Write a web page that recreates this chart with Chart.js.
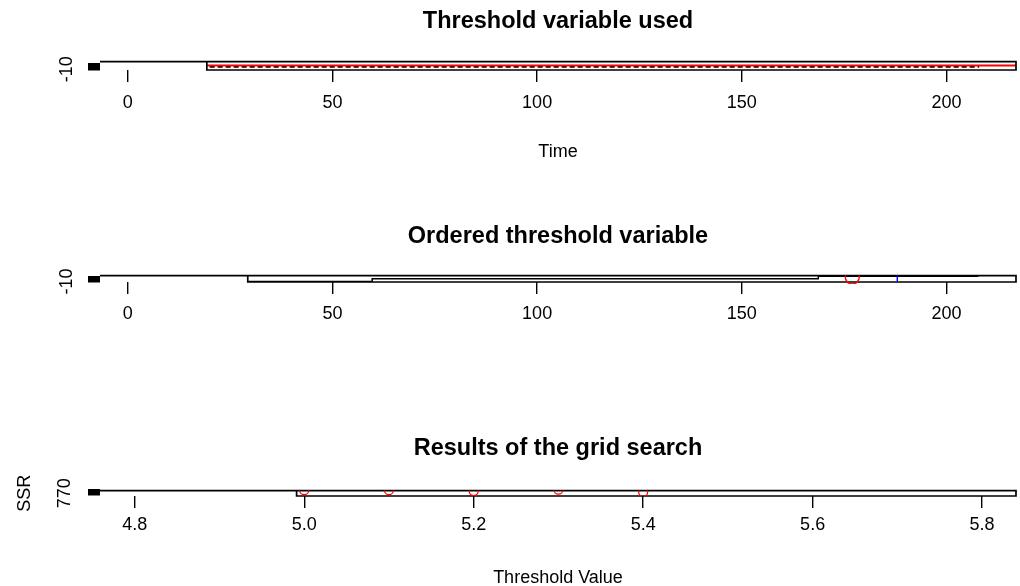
<!DOCTYPE html>
<html>
<head>
<meta charset="utf-8">
<title>selectSETAR</title>
<script src="https://cdn.jsdelivr.net/npm/chart.js@4.4.1/dist/chart.umd.min.js"></script>
<style>
  html, body { margin: 0; padding: 0; background: #fff; }
  #wrap { position: relative; width: 1020px; height: 586px; }
  canvas { position: absolute; left: 0; }
</style>
</head>
<body>
<div id="wrap">
  <canvas id="usedChart" width="1020" height="180" style="top:0px"></canvas>
  <canvas id="orderedChart" width="1020" height="150" style="top:195px"></canvas>
  <canvas id="gridChart" width="1020" height="186" style="top:400px"></canvas>
</div>
<script>
// time axis shared by the two upper panels
const timeLimits = [-6.8, 217];
const timeTicks = [0, 50, 100, 150, 200];
// threshold variable scale, only the first label has room
const levelLimits = [-13, 21];
const levelTicks = [-10, -5, 0, 5, 10];
const levelLabels = [-10];

// threshold variable used
const usedStart = 19.3;
const usedTime = [20, 208];
const usedLevel = [1, 1];
const thresholdUsed = 5.2;

// ordered threshold variable
const orderedStart = 29.3;
const orderedIndex = [29.3, 59.7, 59.7, 168.7, 168.7, 207.8];
const orderedLevel = [-11, -11, 4, 4, 17, 17];
const bestIndex = [177];
const bestLevel = [13.7];
const secondIndex = [188];
const secondLevel = [4];

// grid search
const thLimits = [4.759, 5.84];
const thTicks = [4.8, 5.0, 5.2, 5.4, 5.6, 5.8];
const ssrLimits = [766, 774];
const ssrTicks = [768, 770, 772, 774];
const ssrLabels = [770];
const gridStart = 4.991;
const gridTh = [5.0, 5.1, 5.2, 5.3, 5.4];
const gridSSR = [774.7, 774.7, 773.3, 775.3, 772];

Chart.defaults.font.family = "'Liberation Sans', Arial, sans-serif";
Chart.defaults.color = '#000';

function pts(xs, ys) {
    return xs.map((x, i) => ({x: x, y: ys[i]}));
}

// top edge over the whole panel, box from start to the right edge
function frame(xLim, yLim, start) {
    return pts([xLim[0], xLim[1], xLim[1], start, start],
        [yLim[1], yLim[1], yLim[0], yLim[0], yLim[1]]);
}

function xAxis(lim, ticks, fmt, pad, height, title, titlePad) {
    return {
        type: 'linear', min: lim[0], max: lim[1],
        afterBuildTicks: s => { s.ticks = ticks.map(v => ({value: v})); },
        afterFit: s => { s.height = height; },
        border: {display: false},
        grid: {drawOnChartArea: false, tickLength: 12, color: '#000', lineWidth: 1.4},
        ticks: {font: {size: 18}, padding: pad, maxRotation: 0, autoSkip: false, callback: fmt},
        title: {display: !!title, text: title || '', font: {size: 18}, padding: {top: 0, bottom: titlePad || 0}}
    };
}

function yAxis(lim, ticks, labels, title) {
    return {
        type: 'linear', min: lim[0], max: lim[1],
        afterBuildTicks: s => { s.ticks = ticks.map(v => ({value: v})); },
        afterFit: s => { s.width = 100; },
        border: {display: false},
        grid: {drawOnChartArea: false, tickLength: 12, color: '#000', lineWidth: 2.5},
        ticks: {font: {size: 18}, padding: 8, minRotation: 90, maxRotation: 90, crossAlign: 'center',
            autoSkip: false, callback: v => labels.includes(v) ? String(v) : ''},
        title: {display: !!title, text: title || '', font: {size: 18}, padding: {top: 14, bottom: 0}}
    };
}

// titles sit over the plot region only
function titleOpts(text, top, bottom) {
    return {display: true, fullSize: false, text: text, font: {size: 23.5, weight: 'bold'},
        padding: {top: top, bottom: bottom}};
}

function lineSet(data, color, width, extra) {
    return Object.assign({data: data, showLine: true, borderColor: color, borderWidth: width,
        pointRadius: 0, fill: false}, extra || {});
}

function baseOpts() {
    return {
        responsive: false,
        animation: false,
        layout: {autoPadding: false, padding: {left: 0, right: 4, top: 0, bottom: 0}},
        plugins: {legend: {display: false}, tooltip: {enabled: false}}
    };
}

let opts1 = baseOpts();
opts1.plugins.title = titleOpts('Threshold variable used', 7.2, 26.2);
opts1.scales = {
    x: xAxis(timeLimits, timeTicks, v => String(v), 10, 110, 'Time', 17.2),
    y: yAxis(levelLimits, levelTicks, levelLabels)
};
new Chart(document.getElementById('usedChart'), {
    type: 'scatter',
    data: {
        datasets: [
            lineSet(frame(timeLimits, levelLimits, usedStart), '#000', 1.7, {clip: 2}),
            lineSet(pts([usedStart, timeLimits[1]], [thresholdUsed, thresholdUsed]), '#ff0000', 2),
            lineSet(pts(usedTime, usedLevel), '#000', 2.3, {borderDash: [5, 3]})
        ]
    },
    options: opts1
});

let opts2 = baseOpts();
opts2.plugins.title = titleOpts('Ordered threshold variable', 27.2, 25.2);
opts2.scales = {
    x: xAxis(timeLimits, timeTicks, v => String(v), 9.2, 63),
    y: yAxis(levelLimits, levelTicks, levelLabels)
};
new Chart(document.getElementById('orderedChart'), {
    type: 'scatter',
    data: {
        datasets: [
            {data: pts(bestIndex, bestLevel), pointRadius: 7, pointBorderWidth: 1.4,
                pointBorderColor: '#ff0000', pointBackgroundColor: 'rgba(0,0,0,0)',
                clip: {left: 0, top: 0, right: 0, bottom: 2}},
            {data: pts(secondIndex, secondLevel), pointStyle: 'line', rotation: 90, pointRadius: 3.5,
                pointBorderWidth: 1.4, pointBorderColor: '#0000ff'},
            lineSet(frame(timeLimits, levelLimits, orderedStart), '#000', 1.7, {clip: 2}),
            lineSet(pts(orderedIndex, orderedLevel), '#000', 1.5)
        ]
    },
    options: opts2
});

let opts3 = baseOpts();
opts3.plugins.title = titleOpts('Results of the grid search', 34.2, 28.2);
opts3.scales = {
    x: xAxis(thLimits, thTicks, v => v.toFixed(1), 6.2, 90, 'Threshold Value', -2.5),
    y: yAxis(ssrLimits, ssrTicks, ssrLabels, 'SSR')
};
new Chart(document.getElementById('gridChart'), {
    type: 'scatter',
    data: {
        datasets: [
            {data: pts(gridTh, gridSSR), pointRadius: 4.5, pointBorderWidth: 1.3,
                pointBorderColor: '#ff0000', pointBackgroundColor: 'rgba(0,0,0,0)'},
            lineSet(frame(thLimits, ssrLimits, gridStart), '#000', 1.7, {clip: 2})
        ]
    },
    options: opts3
});
</script>
</body>
</html>
